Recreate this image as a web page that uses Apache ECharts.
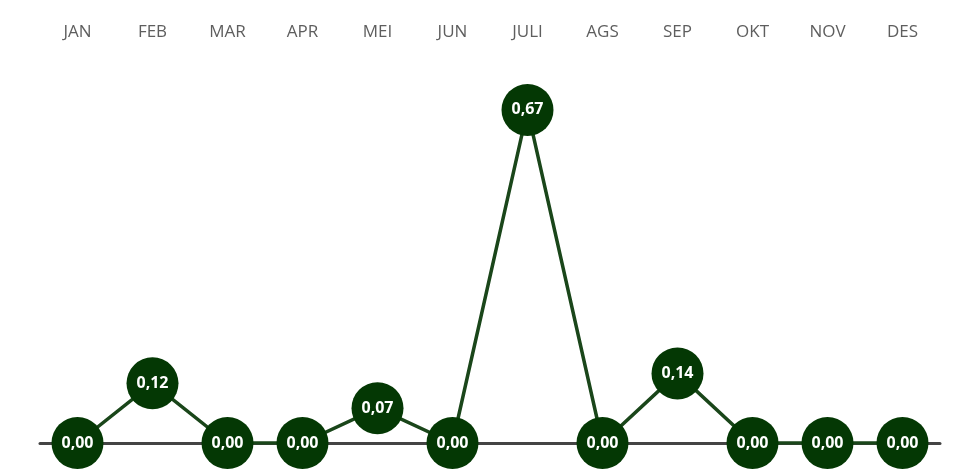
<!DOCTYPE html>
<html>
<head>
<meta charset="utf-8">
<script src="https://cdn.jsdelivr.net/npm/echarts@6/dist/echarts.min.js"></script>
<style>
  html, body { margin: 0; padding: 0; background: #fff; }
  #chart { width: 957px; height: 469px; }
</style>
</head>
<body>
<div id="chart"></div>
<script>
// bulan
var months = ['JAN', 'FEB', 'MAR', 'APR', 'MEI', 'JUN', 'JULI', 'AGS', 'SEP', 'OKT', 'NOV', 'DES']
// nilai per bulan
var values = [0.00, 0.12, 0.00, 0.00, 0.07, 0.00, 0.67, 0.00, 0.14, 0.00, 0.00, 0.00]

var myChart = echarts.init(document.getElementById('chart'))
myChart.setOption({
  animation: false,
  grid: { left: 40, right: 17, top: 95, bottom: 26 },
  xAxis: [
    {
      type: 'category',
      data: months,
      position: 'bottom',
      axisLine: { show: true, lineStyle: { color: '#444', width: 3 } },
      axisTick: { show: false },
      axisLabel: { show: false }
    },
    {
      type: 'category',
      data: months,
      position: 'top',
      axisLine: { show: false },
      axisTick: { show: false },
      axisLabel: {
        margin: 54,
        color: '#5e5e5e',
        fontSize: 17,
        fontFamily: 'Open Sans'
      }
    }
  ],
  yAxis: {
    type: 'value',
    min: 0,
    max: 0.7,
    show: false,
    splitLine: { show: false }
  },
  series: [
    {
      type: 'line',
      data: values,
      symbol: 'circle',
      symbolSize: 52,
      showSymbol: true,
      showAllSymbol: true,
      lineStyle: { color: '#1a461a', width: 3.5 },
      itemStyle: { color: '#043804' },
      label: {
        show: true,
        position: 'inside',
        color: '#fff',
        fontWeight: 'bold',
        fontSize: 16,
        fontFamily: 'Open Sans',
        formatter: function(p) {
          return p.value.toFixed(2).replace('.', ',')
        }
      }
    }
  ]
})
</script>
</body>
</html>
